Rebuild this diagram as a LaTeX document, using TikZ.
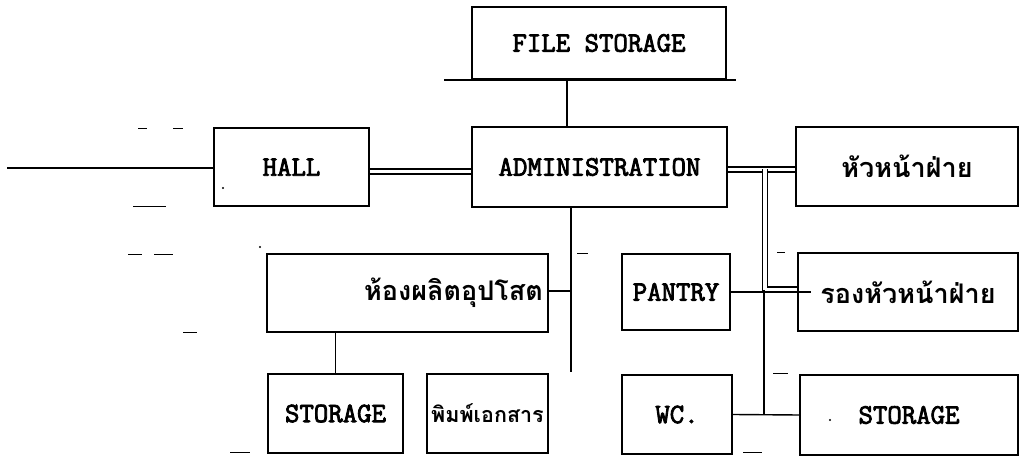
\documentclass[tikz,border=0pt]{standalone}
\usepackage{fontspec}
\newfontfamily\engfont{Latin Modern Mono}[FakeBold=3]
\newfontfamily\thaifont[Script=Thai]{Loma}
\usetikzlibrary{calc}
\tikzset{
  box/.style={draw, line width=1.8pt, inner sep=0pt, align=center,
    font=\engfont\fontsize{28}{30}\selectfont},
  thaibox/.style={box, font=\thaifont\bfseries\fontsize{27}{30}\selectfont},
  link/.style={line width=1.4pt},
  dbl/.style={double, double distance=3.6pt, line width=1.4pt},
  speck/.style={line width=1pt},
}
\begin{document}
\begin{tikzpicture}[x=1pt,y=-1pt]
\useasboundingbox (0,0) rectangle (1021,457);
% boxes
\node[box, minimum width=254pt, minimum height=72pt] (files) at (599,43) {FILE STORAGE};
\node[box, minimum width=255pt, minimum height=80pt] (admin) at (599.5,167) {ADMINISTRATION};
\node[box, minimum width=155pt, minimum height=78pt] (hall) at (291.5,167) {HALL};
\node[thaibox, minimum width=222pt, minimum height=79pt] (head) at (907,166.5) {หัวหน้าฝ่าย};
\node[thaibox, minimum width=281pt, minimum height=78pt, text width=271pt, align=right] (prod) at (407.5,293) {ห้องผลิตอุปโสต};
\node[box, minimum width=108pt, minimum height=76pt] (pantry) at (676,292) {PANTRY};
\node[thaibox, minimum width=220pt, minimum height=78pt] (deputy) at (908,292) {รองหัวหน้าฝ่าย};
\node[box, minimum width=135pt, minimum height=79pt] (stor1) at (335.5,413.5) {STORAGE};
\node[thaibox, minimum width=121pt, minimum height=79pt, font=\thaifont\bfseries\fontsize{21.5}{26}\selectfont] (print) at (487.5,413.5) {พิมพ์เอกสาร};
\node[box, minimum width=110pt, minimum height=79pt] (wc) at (677,414.5) {WC.};
\node[box, minimum width=218pt, minimum height=80pt] (stor2) at (909,415) {STORAGE};
% helper coordinates
\coordinate (entry) at (7,168);
\coordinate (v1) at (567,0);
\coordinate (v2) at (571,372);
\coordinate (br1) at (765,169.5);
\coordinate (br2) at (764,290);
\coordinate (br3) at (764,415);
% connectors
\draw[link, line width=1.8pt] (entry) -- (entry -| hall.west);
\draw[dbl] ($(hall.east)+(0,4.5)$) -- ($(admin.west)+(0,4.5)$);
\draw[link] (files.south -| v1) -- (admin.north -| v1);
\draw[link] ([xshift=-27pt]files.south west) -- ([xshift=9pt]files.south east);
\draw[dbl] ($(admin.east)+(0,2.5)$) -- ($(head.west)+(0,3)$);
\draw[dbl] (br1) |- ($(deputy.west)+(0,-2.5)$);
\draw[link] (pantry.east) -- ([xshift=14pt]deputy.west);
\draw[link] (br2) -- (br3);
\draw[link] (wc.east) -- (stor2.west);
\draw[link] (admin.south -| v2) -- (v2);
\draw[link] ($(prod.east)+(0,-2)$) -- ($(prod.east -| v2)+(0,-2)$);
\draw[link] (prod.south -| stor1.north) -- (stor1.north);
% stray marks of the original print
\draw[speck] (138,129) -- (147,129);
\draw[speck] (173,129) -- (183,129);
\draw[speck] (133,207) -- (166,207);
\draw[speck] (128,255) -- (142,255);
\draw[speck] (154,255) -- (173,255);
\draw[speck] (183,333) -- (197,333);
\draw[speck] (230,452) -- (250,452);
\draw[speck] (577,254) -- (588,254);
\draw[speck] (777,253) -- (785,253);
\draw[speck] (773,373) -- (788,373);
\draw[speck] (743,452) -- (762,452);
\fill (260,247) circle (1.2pt);
\fill (223,188) circle (1.2pt);
\fill (830,420) circle (1.2pt);
\end{tikzpicture}
\end{document}
